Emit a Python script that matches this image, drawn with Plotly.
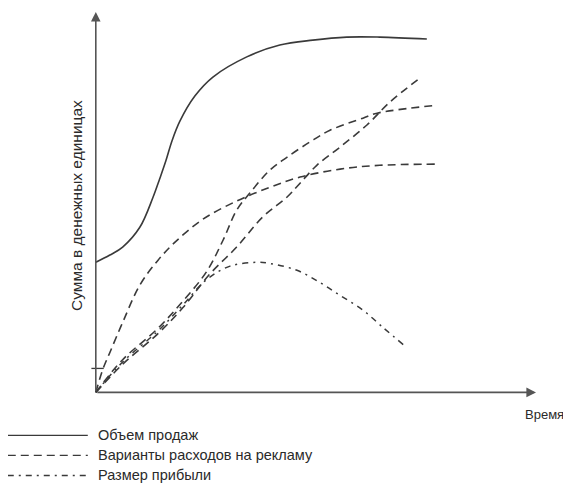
import plotly.graph_objects as go

# ---- data (x = time, y = amount, arbitrary units 0..100) ----
sales_x = [0, 3.2, 6.1, 10.0, 13.0, 14.5, 15.9, 17.3, 19.1, 22.5, 26.6, 34.3, 41.8, 49.3, 57.0, 64.5, 75.2]
sales_y = [34.2, 36.1, 38.2, 43.4, 51.3, 56.1, 60.8, 66.1, 71.3, 77.9, 82.9, 88.2, 91.3, 92.6, 93.4, 93.4, 92.9]

adA_x = [0, 1.6, 3.2, 6.1, 10.0, 14.1, 18.0, 24.3, 32.0, 39.5, 46.4, 55.5, 64.5, 77.5]
adA_y = [0, 6.1, 10.5, 18.4, 28.2, 34.7, 39.5, 45.5, 50.3, 53.9, 56.6, 58.7, 59.7, 60.0]

adB_x = [0, 6.1, 13.9, 19.8, 25.2, 28.9, 32.0, 35.0, 39.5, 43.4, 48.6, 53.2, 60.7, 63.9, 77.5]
adB_y = [0, 8.6, 16.6, 24.0, 31.8, 40.0, 47.9, 52.4, 58.4, 61.8, 65.8, 68.9, 72.1, 73.4, 75.5]

adC_x = [0, 6.1, 13.9, 19.8, 25.9, 32.0, 37.9, 43.4, 46.4, 50.2, 55.5, 61.6, 66.8, 73.6]
adC_y = [0, 7.4, 15.2, 22.3, 31.1, 38.2, 46.1, 51.3, 55.0, 59.7, 64.5, 70.3, 76.3, 82.6]

profit_x = [0, 6.1, 13.9, 19.8, 25.2, 30.5, 36.6, 39.5, 45.7, 50.9, 55.5, 60.7, 65.2, 70.0]
profit_y = [0, 8.0, 15.9, 23.0, 29.7, 33.2, 34.2, 33.9, 32.1, 28.9, 25.5, 21.6, 17.1, 12.4]

fixed_level = 6.3  # small mark on the vertical axis

legend_labels = ["Объем продаж", "Варианты расходов на рекламу", "Размер прибыли"]
x_label = "Время"
y_label = "Сумма в денежных единицах"

# ---- style / layout ----
INK = "#3a3a3a"
TXT = "#2a2a2a"
FONT = "Liberation Sans"
PAGE_OFF = 8            # default body margin of the html page
W, H = 571 - PAGE_OFF, 486 - PAGE_OFF
X0, X1 = -2, 100
Y0, Y1 = -2, 100
# plot area in viewport pixels
VP_LEFT, VP_RIGHT = 87.2, 536.0
VP_TOP, VP_BOTTOM = 12.0, 399.6
ML = VP_LEFT - PAGE_OFF
MT = VP_TOP - PAGE_OFF
MR = W - (VP_RIGHT - PAGE_OFF)
MB = H - (VP_BOTTOM - PAGE_OFF)

def vp_to_paper(px, py):
    return (px - VP_LEFT) / (VP_RIGHT - VP_LEFT), (VP_BOTTOM - py) / (VP_BOTTOM - VP_TOP)

DASH = "8px,5px"
DASHDOT = "6px,5px,2px,5px"

fig = go.Figure()
common = dict(mode="lines", line_shape="spline", showlegend=False, hoverinfo="skip")
fig.add_trace(go.Scatter(x=sales_x, y=sales_y, line=dict(color=INK, width=1.6), **common))
for xs, ys in [(adA_x, adA_y), (adB_x, adB_y), (adC_x, adC_y)]:
    fig.add_trace(go.Scatter(x=xs, y=ys, line=dict(color=INK, width=1.6, dash=DASH), **common))
fig.add_trace(go.Scatter(x=profit_x, y=profit_y, line=dict(color=INK, width=1.5, dash=DASHDOT), **common))

shapes = []
shapes.append(dict(type="line", xref="x", yref="y", x0=-1.0, x1=1.8, y0=fixed_level, y1=fixed_level,
                   line=dict(color=INK, width=1.3)))

# manual legend
legend_rows = [435, 455, 475]
legend_dash = ["solid", DASH, DASHDOT]
annotations = []
for lab, row, dsh in zip(legend_labels, legend_rows, legend_dash):
    ax0, ay = vp_to_paper(8, row)
    ax1, _ = vp_to_paper(88, row)
    shapes.append(dict(type="line", xref="paper", yref="paper", x0=ax0, x1=ax1, y0=ay, y1=ay,
                       line=dict(color=INK, width=1.3, dash=dsh)))
    tx, _ = vp_to_paper(96, row)
    annotations.append(dict(xref="paper", yref="paper", x=tx, y=ay, text=lab, showarrow=False,
                            xanchor="left", yanchor="middle", font=dict(family=FONT, size=14.5, color=TXT)))

# axes with arrowheads
annotations.append(dict(x=100, y=0, ax=0, ay=0, xref="x", yref="y", axref="x", ayref="y", text="",
                        showarrow=True, arrowhead=2, arrowsize=1.2, arrowwidth=1.6, arrowcolor="#555"))
annotations.append(dict(x=0, y=100, ax=0, ay=0, xref="x", yref="y", axref="x", ayref="y", text="",
                        showarrow=True, arrowhead=2, arrowsize=1.2, arrowwidth=1.6, arrowcolor="#555"))

# axis labels
lx, ly = vp_to_paper(566, 414)
annotations.append(dict(xref="paper", yref="paper", x=lx, y=ly, text=x_label, showarrow=False,
                        xanchor="right", yanchor="middle", font=dict(family=FONT, size=13, color=TXT)))
yx, yy = vp_to_paper(76, 205)
annotations.append(dict(xref="paper", yref="paper", x=yx, y=yy, text=y_label, showarrow=False, textangle=-90,
                        xanchor="center", yanchor="middle", font=dict(family=FONT, size=15.5, color=TXT)))

axis_style = dict(showgrid=False, zeroline=False, showticklabels=False, showline=False, ticks="")
fig.update_layout(
    width=W, height=H,
    margin=dict(l=ML, r=MR, t=MT, b=MB, pad=0),
    paper_bgcolor="white", plot_bgcolor="white",
    xaxis=dict(range=[X0, X1], **axis_style),
    yaxis=dict(range=[Y0, Y1], **axis_style),
    shapes=shapes, annotations=annotations,
)
fig.write_html("out.html")
